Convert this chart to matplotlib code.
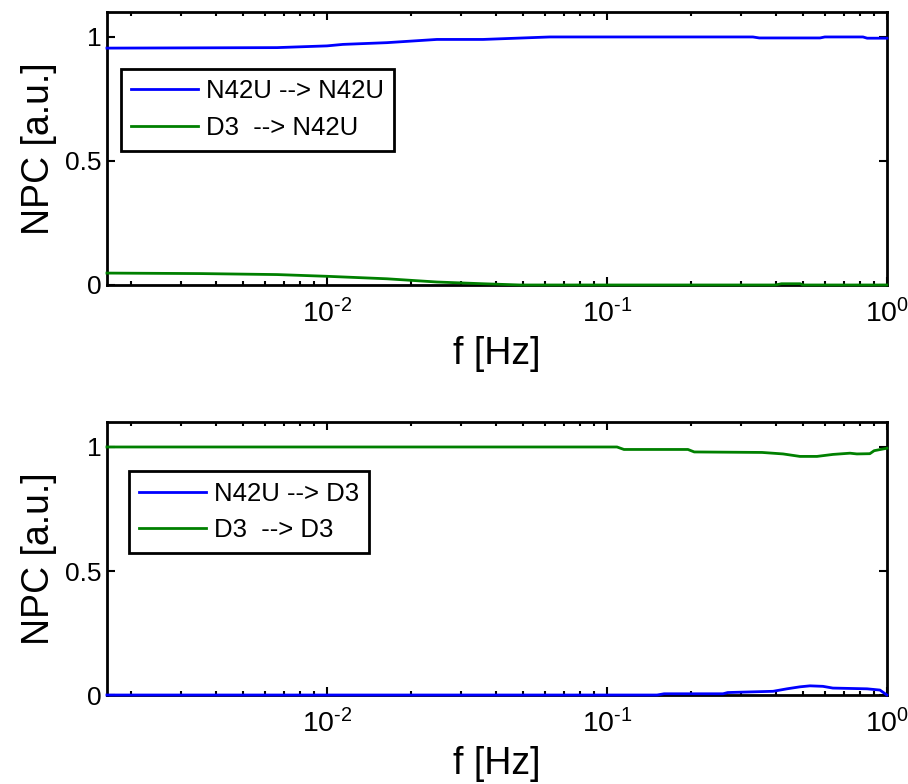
import numpy as np
import matplotlib.pyplot as plt

plt.rcParams['font.family'] = ['Liberation Sans', 'DejaVu Sans']
plt.rcParams['mathtext.fontset'] = 'custom'
plt.rcParams['mathtext.rm'] = 'Liberation Sans'
plt.rcParams['mathtext.it'] = 'Liberation Sans'

# top panel: effect on N42U
f_top_blue = [0.001637, 0.00663, 0.01, 0.0114, 0.01637, 0.0247, 0.0361, 0.0625,
              0.332, 0.35, 0.5768, 0.6, 0.821, 0.85, 1.0]
npc_top_blue = [0.955, 0.957, 0.964, 0.97, 0.977, 0.99, 0.99, 1.0,
                1.0, 0.996, 0.996, 1.0, 1.0, 0.995, 0.995]
f_top_green = [0.001637, 0.00352, 0.00663, 0.01, 0.01637, 0.0247, 0.0361, 0.0489,
               0.4, 0.42, 0.49, 0.501, 1.0]
npc_top_green = [0.048, 0.046, 0.042, 0.035, 0.025, 0.012, 0.005, 0.0,
                 0.0, 0.005, 0.005, 0.0, 0.0]

# bottom panel: effect on D3
f_bot_blue = [0.001637, 0.151, 0.16, 0.2597, 0.27, 0.392, 0.4396, 0.489, 0.531,
              0.5905, 0.641, 0.849, 0.944, 1.0]
npc_bot_blue = [0.0, 0.0, 0.005, 0.005, 0.01, 0.015, 0.025, 0.033, 0.037,
                0.035, 0.028, 0.025, 0.02, 0.0]
f_bot_green = [0.001637, 0.1086, 0.115, 0.1946, 0.205, 0.358, 0.4256, 0.489,
               0.5623, 0.641, 0.738, 0.781, 0.869, 0.9, 1.0]
npc_bot_green = [1.0, 1.0, 0.99, 0.99, 0.98, 0.978, 0.972, 0.962,
                 0.962, 0.97, 0.975, 0.972, 0.973, 0.985, 0.995]

xticks = [0.01, 0.1, 1]
xticklabels = [r'$10^{\text{-2}}$', r'$10^{\text{-1}}$', r'$10^{\text{0}}$']

blue = (0, 0, 1)
green = (0, 0.5, 0)

fig = plt.figure(figsize=(9.08, 7.84), dpi=100)
ax1 = fig.add_axes([0.1178, 0.6365, 0.859, 0.348])
ax2 = fig.add_axes([0.1178, 0.1135, 0.859, 0.348])

panels = [
    (ax1, f_top_blue, npc_top_blue, f_top_green, npc_top_green,
     ['N42U --> N42U', 'D3  --> N42U'], (0.018, 0.791)),
    (ax2, f_bot_blue, npc_bot_blue, f_bot_green, npc_bot_green,
     ['N42U --> D3', 'D3  --> D3'], (0.028, 0.82)),
]

for ax, fb, yb, fg, yg, names, anchor in panels:
    ax.plot(fb, yb, color=blue, lw=2, label=names[0], clip_on=False, zorder=3)
    ax.plot(fg, yg, color=green, lw=2, label=names[1], clip_on=False, zorder=3)
    ax.set_xscale('log')
    ax.set_xlim(0.001637, 1.0)
    ax.set_ylim(0, 1.1)
    ax.set_yticks([0, 0.5, 1])
    ax.set_yticklabels(['0', '0.5', '1'])
    ax.set_xticks(xticks)
    ax.set_xticklabels(xticklabels)
    ax.tick_params(which='both', direction='in', top=True, right=True, width=1.5)
    ax.tick_params(which='major', length=6)
    ax.tick_params(which='minor', length=3)
    ax.tick_params(axis='x', which='major', labelsize=20.5, pad=10)
    ax.tick_params(axis='y', which='major', labelsize=19, pad=4)
    for s in ax.spines.values():
        s.set_linewidth(2)
    ax.set_xlabel('f [Hz]', fontsize=27, labelpad=6)
    ax.set_ylabel('NPC [a.u.]', fontsize=27, labelpad=6)
    leg = ax.legend(loc='upper left', bbox_to_anchor=anchor, borderaxespad=0,
                    fontsize=18.5, fancybox=False, edgecolor='black',
                    handlelength=2.6, handletextpad=0.3, framealpha=1)
    leg.get_frame().set_linewidth(2)

fig.savefig('out.png', dpi=100)
